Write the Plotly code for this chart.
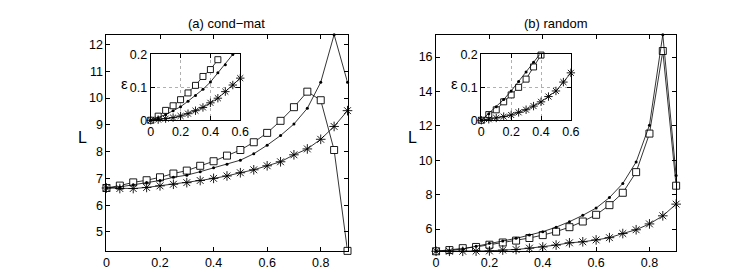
import plotly.graph_objects as go

# ---------------- data ----------------
x_main = [0, 0.05, 0.1, 0.15, 0.2, 0.25, 0.3, 0.35, 0.4, 0.45,
          0.5, 0.55, 0.6, 0.65, 0.7, 0.75, 0.8, 0.85, 0.9]

cm_square = [6.64, 6.73, 6.85, 6.93, 7.04, 7.18, 7.29, 7.47, 7.64, 7.85,
             8.06, 8.35, 8.70, 9.15, 9.66, 10.24, 9.92, 8.06, 4.29]
cm_dot = [6.64, 6.68, 6.76, 6.85, 6.92, 7.04, 7.12, 7.25, 7.40, 7.53,
          7.68, 7.92, 8.24, 8.60, 9.03, 9.62, 10.59, 12.37, 10.59]
cm_star = [6.64, 6.62, 6.62, 6.66, 6.72, 6.78, 6.84, 6.92, 7.00, 7.09,
           7.21, 7.32, 7.47, 7.62, 7.88, 8.10, 8.46, 8.94, 9.53]

rd_square = [4.71, 4.78, 4.89, 4.96, 5.09, 5.22, 5.33, 5.48, 5.65, 5.85,
             6.11, 6.44, 6.83, 7.39, 8.11, 9.31, 11.55, 16.35, 8.52]
rd_dot = [4.71, 4.75, 4.85, 5.00, 5.17, 5.30, 5.46, 5.65, 5.85, 6.11,
          6.43, 6.80, 7.22, 7.83, 8.65, 9.90, 12.04, 17.30, 9.11]
rd_star = [4.71, 4.71, 4.71, 4.72, 4.73, 4.78, 4.81, 4.89, 4.96, 5.07,
           5.20, 5.26, 5.37, 5.50, 5.74, 5.96, 6.30, 6.77, 7.45]

x_inset = [0, 0.05, 0.1, 0.15, 0.2, 0.25, 0.3, 0.35, 0.4, 0.45, 0.5, 0.55, 0.6]

cm_eps_square = [0, 0.0125, 0.030, 0.044, 0.0625, 0.083, 0.106, 0.133, 0.154, 0.184]
cm_eps_dot = [0, 0.008, 0.017, 0.029, 0.041, 0.058, 0.075, 0.094, 0.116, 0.144, 0.169, 0.200]
cm_eps_star = [0, 0.002, 0.005, 0.008, 0.013, 0.020, 0.029, 0.039, 0.053, 0.067, 0.087, 0.107, 0.128]

rd_eps_square = [0, 0.0173, 0.0317, 0.056, 0.077, 0.100, 0.125, 0.162, 0.198]
rd_eps_dot = [0, 0.020, 0.041, 0.063, 0.089, 0.118, 0.147, 0.176, 0.205]
rd_eps_star = [0, 0.003, 0.007, 0.011, 0.016, 0.024, 0.032, 0.043, 0.056, 0.072, 0.089, 0.116, 0.144]

main_xticks = [0, 0.2, 0.4, 0.6, 0.8]
cm_yticks = [5, 6, 7, 8, 9, 10, 11, 12]
rd_yticks = [6, 8, 10, 12, 14, 16]
inset_xticks = [0, 0.2, 0.4, 0.6]
inset_yticks = [0, 0.1, 0.2]

titles = ["(a) cond\u2212mat", "(b) random"]

# ---------------- figure ----------------
W, H = 747, 280
FONT = "Liberation Sans, Arial, sans-serif"


def px_x(a, b):
    return [a / W, b / W]


def px_y(top, bottom):
    return [1 - bottom / H, 1 - top / H]


fig = go.Figure()


def add_series(xs, ys, xa, ya, kind, msize):
    n = len(ys)
    if kind == "square":
        marker = dict(symbol="square", size=msize, color="white",
                      line=dict(width=0.9, color="black"))
    elif kind == "dot":
        marker = dict(symbol="circle", size=3, color="black")
    else:
        marker = dict(symbol="asterisk-open", size=msize + 1, color="black",
                      line=dict(width=0.9, color="black"))
    fig.add_trace(go.Scatter(x=xs[:n], y=ys, mode="lines+markers",
                             line=dict(color="black", width=0.8),
                             marker=marker, xaxis=xa, yaxis=ya,
                             cliponaxis=False, showlegend=False,
                             hoverinfo="skip"))


# main panels
add_series(x_main, cm_square, "x", "y", "square", 7)
add_series(x_main, cm_dot, "x", "y", "dot", 3)
add_series(x_main, cm_star, "x", "y", "star", 7)
add_series(x_main, rd_square, "x2", "y2", "square", 7)
add_series(x_main, rd_dot, "x2", "y2", "dot", 3)
add_series(x_main, rd_star, "x2", "y2", "star", 7)
# insets
add_series(x_inset, cm_eps_square, "x3", "y3", "square", 6)
add_series(x_inset, cm_eps_dot, "x3", "y3", "dot", 3)
add_series(x_inset, cm_eps_star, "x3", "y3", "star", 6)
add_series(x_inset, rd_eps_square, "x4", "y4", "square", 6)
add_series(x_inset, rd_eps_dot, "x4", "y4", "dot", 3)
add_series(x_inset, rd_eps_star, "x4", "y4", "star", 6)

axis_common = dict(showline=True, linecolor="black", linewidth=1, mirror="ticks",
                   ticks="inside", ticklen=4, tickcolor="black", tickwidth=1,
                   zeroline=False, showgrid=False,
                   tickfont=dict(family=FONT, size=12.5, color="black"))

grid = dict(showgrid=True, gridcolor="#b0b0b0", griddash="dot", gridwidth=1)

cm_all = cm_square + cm_dot + cm_star
rd_all = rd_square + rd_dot + rd_star

fig.update_layout(
    width=W, height=H,
    margin=dict(l=0, r=0, t=0, b=0),
    paper_bgcolor="white", plot_bgcolor="white",
    xaxis=dict(axis_common, domain=px_x(97, 342), range=[x_main[0], x_main[-1]],
               tickvals=main_xticks, ticktext=[f"{v:g}" for v in main_xticks],
               anchor="y"),
    yaxis=dict(axis_common, domain=px_y(20.7, 248.3), range=[min(cm_all), max(cm_all)],
               tickvals=cm_yticks, anchor="x"),
    xaxis2=dict(axis_common, domain=px_x(432, 676), range=[x_main[0], x_main[-1]],
                tickvals=main_xticks, ticktext=[f"{v:g}" for v in main_xticks],
                anchor="y2"),
    yaxis2=dict(axis_common, domain=px_y(20.7, 248.7), range=[min(rd_all), max(rd_all)],
                tickvals=rd_yticks, anchor="x2"),
    xaxis3=dict(axis_common, **grid, domain=px_x(142, 233), range=[0, 0.6],
                tickvals=inset_xticks, ticktext=[f"{v:g}" for v in inset_xticks],
                anchor="y3"),
    yaxis3=dict(axis_common, **grid, domain=px_y(41.5, 110.8), range=[0, 0.2],
                tickvals=inset_yticks, ticktext=[f"{v:g}" for v in inset_yticks],
                anchor="x3"),
    xaxis4=dict(axis_common, **grid, domain=px_x(478, 569), range=[0, 0.6],
                tickvals=inset_xticks, ticktext=[f"{v:g}" for v in inset_xticks],
                anchor="y4"),
    yaxis4=dict(axis_common, **grid, domain=px_y(41.5, 110.8), range=[0, 0.2],
                tickvals=inset_yticks, ticktext=[f"{v:g}" for v in inset_yticks],
                anchor="x4"),
)

annots = [
    (titles[0], 219.5, 9, 13),
    (titles[1], 554, 9, 13),
    ("L", 73, 129, 16),
    ("L", 408, 129, 16),
    ("\u03b5", 115, 72, 15),
    ("\u03b5", 451, 72, 15),
]
for text, x, y, size in annots:
    fig.add_annotation(text=text, x=x / W, y=1 - y / H, xref="paper", yref="paper",
                       showarrow=False, xanchor="center", yanchor="middle",
                       font=dict(family=FONT, size=size, color="black"))

fig.write_html("out.html")
